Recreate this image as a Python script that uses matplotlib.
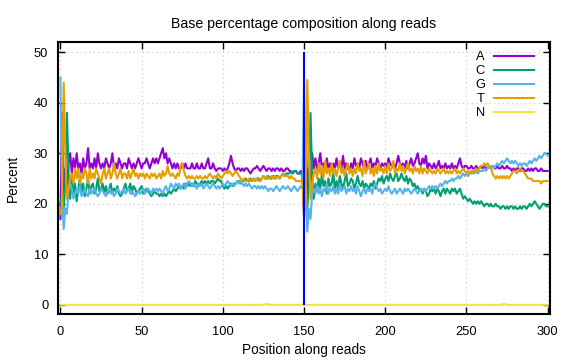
import numpy as np
import matplotlib
matplotlib.use("Agg")
from matplotlib import pyplot as plt

# Base composition (%) per position; reads 1 and 2 joined at position 150
a_pct = [
    17, 38, 22, 27, 23, 28, 30, 26, 29, 27,
    30, 27, 28, 26, 29, 27, 28, 31, 27, 28,
    27, 29, 27, 30, 28, 27, 28, 27, 29, 28,
    27, 28, 30, 27, 28, 27, 29, 28, 27, 28,
    28, 27, 29, 28, 27, 28, 27, 28, 29, 28,
    27, 28, 28, 29, 28, 27, 28, 29, 28, 29,
    28, 29, 30, 31, 29, 30, 28, 29, 28, 27,
    28, 27, 28, 27, 27, 28, 27, 28, 27, 27,
    27, 28, 27, 27, 28, 27, 27, 28, 27, 27,
    28, 29, 27, 27, 28, 27, 26.5, 27, 27, 27,
    26.5, 27, 26.5, 27, 28, 29.5, 28, 27, 26.5, 27,
    27, 26.5, 27, 26.5, 27, 27, 26.5, 26, 26.5, 27,
    27, 27.5, 27, 26.5, 27, 27.5, 27, 26.5, 27, 27,
    26.5, 27, 26.5, 27, 27, 26.5, 27, 26.5, 26.5, 27,
    27, 26.5, 26.5, 26, 26.5, 26.5, 26, 26, 26.5, 26,
    17, 35, 22, 27, 24, 30, 27, 29, 27, 28,
    30, 27, 28, 26.5, 29, 27, 28, 26.5, 28, 27,
    29, 27, 28, 27, 29.5, 27, 28, 27, 26.5, 28,
    27, 29, 27.5, 28, 27, 29, 28, 27, 28.5, 27,
    28, 29, 27, 28, 27.5, 29, 28, 27, 28, 27.5,
    28, 27, 29, 28, 27.5, 28, 27, 28, 29.5, 28,
    27.5, 28, 27, 28.5, 27, 28, 29, 27.5, 28, 29,
    30, 28, 27.5, 29, 28, 29.5, 27, 28, 27.5, 27,
    28, 27, 27.5, 28.5, 27, 27.5, 27, 28, 27, 27.5,
    27, 28, 27, 27.5, 27, 28, 29, 27.5, 27, 27.5,
    27.5, 27, 27, 27.5, 27, 27, 27.5, 27, 27, 27.5,
    27, 27.5, 27, 27, 27.5, 27, 27.5, 27, 27, 27.5,
    27, 27, 27.5, 27, 27, 27.5, 27, 27, 26.5, 27,
    26.5, 27, 27, 26.5, 27, 27, 26.5, 26.5, 27, 26.5,
    27, 26.5, 27, 27, 26.5, 26.5, 27, 26.5, 26.5, 26.5, 26.5,
]

c_pct = [
    20, 22, 19, 24, 38, 26, 21, 25, 22, 24,
    20.5, 23, 25, 22, 24, 21.5, 23, 25, 22, 23.5,
    24, 22, 23, 25, 22.5, 23, 24, 22, 23.5, 22,
    23, 24, 22, 23, 22.5, 23.5, 22, 21.5, 22, 23,
    24, 22.5, 23, 24, 22, 23.5, 23, 22, 22.5, 23,
    23.5, 22, 22.5, 23, 22.5, 22, 21.5, 22, 22.5, 22,
    22, 21.5, 22, 21.5, 22, 21.5, 22, 22.5, 22, 22.5,
    23, 22.5, 23, 23.5, 23, 23.5, 23, 24, 23.5, 24,
    23.5, 24, 23.5, 24.5, 24, 23.5, 24, 24.5, 24, 24.5,
    24, 24.5, 24, 24.5, 24.5, 24, 24.5, 25, 24.5, 24.5,
    23.5, 23, 23.5, 23, 23.5, 24, 23.5, 24, 24, 24.5,
    24.5, 24, 24.5, 24.5, 25, 24.5, 24.5, 25, 24.5, 25,
    24.5, 25, 25, 24.5, 25, 25.5, 25, 25, 25.5, 25,
    25, 25.5, 25, 25.5, 25.5, 25, 25.5, 26, 25.5, 26,
    26, 26, 26.5, 26, 26.5, 26.5, 26, 26, 26, 25.5,
    20, 22, 19, 24, 38, 25, 21, 24, 22.5, 25,
    23, 26, 23.5, 24.5, 22, 25, 23.5, 24, 26, 23,
    24.5, 23, 25.5, 24, 23, 24.5, 26, 23.5, 24, 25,
    24.5, 23, 24, 25.5, 24, 23.5, 24.5, 23, 24, 23.5,
    23, 24, 23.5, 24.5, 23, 24, 25, 24.5, 25.5, 24,
    25, 25.5, 24.5, 26, 25, 24.5, 25.5, 26, 24.5, 25,
    26, 25, 24.5, 25.5, 24, 25, 24.5, 23.5, 24, 23,
    23.5, 22.5, 23, 22, 23, 22.5, 21.5, 22, 23, 22.5,
    23, 22, 23, 22.5, 21.5, 22.5, 23, 22, 23, 22.5,
    22, 23, 22.5, 23, 22, 22.5, 23, 22, 21, 21.5,
    21, 20.5, 21, 20.5, 20, 20.5, 20, 20.5, 20, 20.5,
    20, 19.5, 20, 20, 19.5, 20, 19.5, 19.5, 20, 19.5,
    19.5, 19, 19.5, 19.5, 19, 19.5, 19, 19.5, 19.5, 19,
    19.5, 19, 19, 19.5, 19, 19.5, 19.5, 19, 19.5, 20,
    19.5, 20, 20.5, 20, 19.5, 19, 19.5, 20, 20, 19.5, 19.5,
]

g_pct = [
    45, 22, 15, 19, 18, 23, 24, 23, 21, 22,
    23, 22, 23.5, 21.5, 22, 23, 22, 21.5, 23, 22,
    22.5, 23, 22, 21.5, 22, 23, 22.5, 22, 21.5, 22.5,
    23, 22, 22.5, 21.5, 22, 23, 22.5, 22, 22.5, 23,
    22, 22.5, 23, 22, 22.5, 22, 21.5, 22, 22.5, 22,
    22.5, 23, 22, 22.5, 23, 22.5, 22, 23, 22.5, 23,
    22.5, 23, 22.5, 22, 23, 23.5, 22.5, 23, 24, 23.5,
    23, 24, 23.5, 24, 23, 23.5, 24, 23, 24, 24.5,
    24, 23.5, 24, 23.5, 23, 24, 23.5, 24, 23, 23.5,
    24, 23.5, 23, 23.5, 24, 23.5, 23, 23.5, 23, 23.5,
    24, 23.5, 24, 24.5, 24, 23.5, 24, 23.5, 24, 24.5,
    24, 24.5, 24, 23.5, 24, 23.5, 24, 23.5, 23, 23.5,
    23.5, 23, 23.5, 23, 23.5, 23, 23.5, 23, 22.5, 23,
    23, 22.5, 23, 23.5, 23, 22.5, 23, 23.5, 23, 23,
    23.5, 23, 22.5, 23, 23.5, 23, 22.5, 23, 23.5, 23,
    44, 25, 14.5, 19, 17, 22, 23, 22, 23.5, 22,
    23, 21.5, 23, 22.5, 24, 22, 23, 22.5, 23.5, 22,
    23, 22, 24, 22.5, 23, 23.5, 22, 23, 22.5, 23.5,
    22.5, 23, 22, 23.5, 22.5, 21.5, 22.5, 23, 22, 23,
    22.5, 23, 22, 23.5, 24, 23, 22.5, 23, 22, 22.5,
    23, 22.5, 23.5, 22.5, 22, 22.5, 23, 22, 22.5, 23,
    22.5, 22, 23, 22.5, 23, 22.5, 22, 22.5, 23, 22.5,
    22, 22.5, 23, 22.5, 23, 22.5, 23, 23.5, 23, 23.5,
    23, 23.5, 23, 23.5, 24, 23.5, 24, 24.5, 24, 24.5,
    24.5, 25, 24.5, 25, 25, 25.5, 25, 25.5, 26, 25.5,
    26, 25.5, 26, 26, 26.5, 26, 26.5, 26, 26.5, 26.5,
    26.5, 27, 26.5, 27, 27.5, 27, 27.5, 27, 27.5, 28,
    27.5, 28, 28.5, 28, 28.5, 29, 28.5, 28, 28.5, 28,
    28.5, 28, 27.5, 28, 27.5, 28, 28, 27.5, 28, 28.5,
    28, 28.5, 29, 28.5, 29, 29.5, 29, 29.5, 30, 30, 29.5,
]

t_pct = [
    18, 20, 44, 30, 21, 23, 25, 26, 24, 27,
    25, 27, 24, 26, 25, 27, 26, 24, 27, 25,
    26, 25, 27, 26, 25, 24, 26, 27, 25, 26,
    27, 25, 26, 28, 26, 25, 26, 27, 25, 26,
    26, 25, 26.5, 25, 26, 27, 25.5, 26, 25, 26,
    25.5, 26, 25, 26, 25.5, 25, 26, 25.5, 26, 25,
    25.5, 26, 25, 26.5, 25.5, 26, 27.5, 26, 25.5, 26,
    25.5, 25, 26, 25.5, 27.5, 28, 26.5, 25.5, 25, 25.5,
    25, 25.5, 25, 25, 25.5, 25, 25.5, 25, 25, 25.5,
    25, 25.5, 26, 25.5, 25, 25.5, 25, 26, 25.5, 25,
    25.5, 26, 26.5, 26, 26.5, 26, 25.5, 26, 26.5, 26,
    25.5, 25, 24.5, 25, 24.5, 24.5, 25, 24.5, 24.5, 25,
    24.5, 25, 24.5, 24.5, 25, 25.5, 25, 25.5, 25, 25,
    25.5, 25, 25.5, 25, 25.5, 25, 25.5, 26, 25.5, 25.5,
    25.5, 25, 25.5, 25, 25, 24.5, 24.5, 24.5, 24.5, 24.5,
    18, 20, 44.5, 30, 21, 24, 26, 27, 25, 28,
    26, 27.5, 25, 28.5, 26, 27, 25.5, 28, 26, 27,
    25.5, 27, 28.5, 26, 27, 25.5, 27, 28, 26, 27,
    25.5, 27, 26, 28, 26.5, 27, 25.5, 28.5, 26, 27,
    28, 26, 27, 25.5, 27.5, 26, 28, 26.5, 27, 26,
    27.5, 26, 28, 26.5, 27, 28.5, 26, 27, 26.5, 28,
    26.5, 27.5, 26, 27, 28, 26.5, 27, 26, 27.5, 26.5,
    27, 26, 27.5, 26, 27, 26.5, 26, 27, 26.5, 26,
    26.5, 26, 27, 26.5, 26, 26.5, 27, 26, 26.5, 26,
    26.5, 26, 26.5, 27, 26, 26.5, 26, 26.5, 27, 26.5,
    26, 26.5, 26, 26.5, 26, 26.5, 27, 26.5, 27, 27.5,
    27.5, 28, 27.5, 28, 27.5, 27, 26, 25.5, 25, 25.5,
    25, 25.5, 25, 25.5, 25, 25.5, 25, 25.5, 26, 26.5,
    26.5, 26, 26.5, 27, 26.5, 26.5, 26, 25.5, 25, 25,
    25, 24.5, 24.5, 24.5, 24.5, 24.5, 24, 24.5, 24.5, 24.5, 24.5,
]

n_pct = [0.0] * 126 + [0.1, 0.2, 0.1] + [0.0] * 143 + [0.1, 0.2, 0.1] + [0.0] * 26

bases = ["A", "C", "G", "T", "N"]
colors = ["#9400d3", "#009e73", "#56b4e9", "#e69f00", "#f0e442"]
read_boundary = 150

plt.rcParams["font.family"] = ["Liberation Sans", "DejaVu Sans"]
plt.rcParams["font.size"] = 9.3

fig = plt.figure(figsize=(5.76, 3.6), dpi=100)
ax = fig.add_axes([0.1007, 0.128, 0.8543, 0.755])

for name, series, col in zip(bases, [a_pct, c_pct, g_pct, t_pct, n_pct], colors):
    ax.plot(np.arange(len(series)), series, color=col, lw=1.5, label=name)

# read 1 / read 2 boundary
ax.vlines(read_boundary, 0, 50, color="#0000ff", lw=1.5, zorder=3)

ax.set_xlim(-1.5, 301.5)
ax.set_ylim(-1.8, 52)
ax.set_xticks(range(0, 301, 50))
ax.set_yticks(range(0, 51, 10))
ax.grid(True, color="#c8c8c8", linestyle=(0, (1, 3)), lw=0.8)
ax.tick_params(direction="in", length=5, width=1, top=True, right=True, pad=7)
ax.tick_params(axis="x", pad=9)
for sp in ax.spines.values():
    sp.set_linewidth(1.5)

ax.set_title("Base percentage composition along reads", fontsize=10.2, pad=10)
ax.set_xlabel("Position along reads", fontsize=9.8, labelpad=3)
ax.set_ylabel("Percent", fontsize=9.8, labelpad=10)

ax.legend(loc="upper right", bbox_to_anchor=(0.983, 0.995), markerfirst=False,
          frameon=False, handlelength=3.1, handletextpad=0.7,
          labelspacing=0.15, borderaxespad=0.2, fontsize=9.3)

plt.savefig("out.png", dpi=100)
plt.close()
